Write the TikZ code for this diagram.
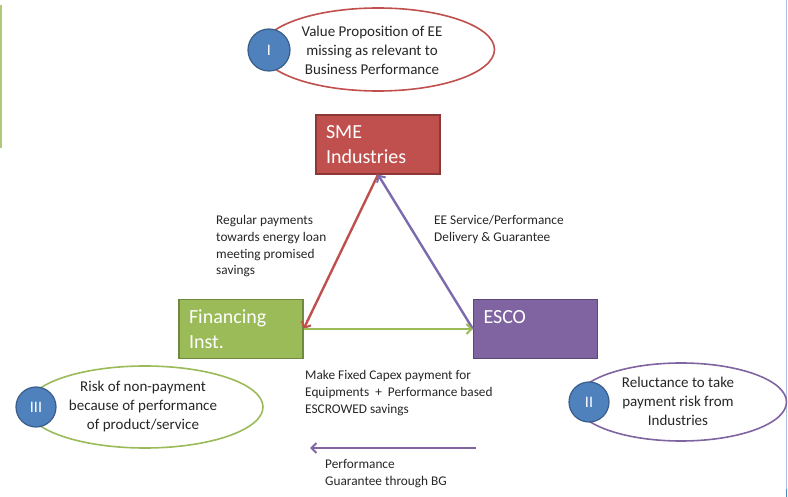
\documentclass[tikz,border=0pt]{standalone}
\usepackage{fontspec}
\setmainfont{Carlito}
\usetikzlibrary{shapes.geometric,arrows.meta}
\definecolor{smefill}{HTML}{C0504D}
\definecolor{smedraw}{HTML}{8C3836}
\definecolor{finfill}{HTML}{9BBB59}
\definecolor{findraw}{HTML}{71893F}
\definecolor{escofill}{HTML}{8064A2}
\definecolor{escodraw}{HTML}{5C4776}
\definecolor{circfill}{HTML}{4F81BD}
\definecolor{circdraw}{HTML}{385D8A}
\definecolor{arrpurple}{HTML}{7B6AAE}
\definecolor{txt}{HTML}{262626}
\definecolor{edgeblue}{HTML}{A9C2E2}
\tikzset{
  box/.style={rectangle, minimum width=124pt, minimum height=59pt, text width=104pt,
    inner xsep=10pt, inner ysep=0pt, align=left, text=white, line width=1.2pt,
    font=\fontsize{20}{24.5}\selectfont},
  oval/.style={ellipse, line width=1.6pt, inner sep=0pt},
  ovaltext/.style={align=center, text=txt, inner sep=0pt, font=\fontsize{15}{19}\selectfont},
  badge/.style={circle, fill=circfill, draw=circdraw, line width=1.2pt, inner sep=0pt,
    text=white, font=\fontsize{16}{18}\selectfont},
  lbl/.style={align=left, text=txt, inner sep=0pt, anchor=north west,
    font=\fontsize{13.3}{16.8}\selectfont},
  arr/.style={line width=2.4pt, -{Straight Barb[length=5pt,width=10pt,line width=2pt]}}
}
\begin{document}
\begin{tikzpicture}[x=1pt,y=-1pt]
\useasboundingbox (0,0) rectangle (788,497);
% edge lines
\draw[line width=2pt, color=finfill!80] (1,5) -- (1,148);
\draw[line width=1.5pt, color=edgeblue] (786.5,0) -- (786.5,497);
\draw[line width=1.5pt, color=circfill] (786.5,489) -- (786.5,497);

% boxes
\node[box, fill=smefill, draw=smedraw] (sme) at (378,144.5) {SME\\Industries};
\node[box, fill=finfill, draw=findraw] (fin) at (241,329) {Financing\\Inst.};
\node[box, fill=escofill, draw=escodraw] (esco) at (535.5,329) {ESCO\\\phantom{I}};

% triangle arrows
\draw[arr, color=smefill] (sme.south) -- (fin.east);
\draw[arr, color=arrpurple] (esco.west) -- (sme.south);
\draw[arr, color=finfill] (fin.east) -- (esco.west);

% bottom arrow
\coordinate (bgR) at (476,448);
\coordinate (bgL) at (310,448);
\draw[arr, color=escofill] (bgR) -- (bgL);

% labels
\node[lbl] (l1) at (216,215) {Regular payments\\towards energy loan\\meeting promised\\savings};
\node[lbl] (l2) at (434,215) {EE Service/Performance\\Delivery \& Guarantee};
\node[lbl] (l3) at (305,370) {Make Fixed Capex payment for\\Equipments \ +\ \ Performance based\\ESCROWED savings};
\node[lbl] (l4) at (325,459.5) {Performance\\Guarantee through BG};

% ellipses
\node[oval, draw=smefill, minimum width=233pt, minimum height=83pt] (e1) at (378,49.5) {};
\node[ovaltext] (t1) at (372,50) {Value Proposition of EE\\missing as relevant to\\Business Performance};
\node[badge, minimum size=42pt] (b1) at (269,50) {I};

\node[oval, draw=finfill, minimum width=236pt, minimum height=82pt] (e3) at (145,407) {};
\node[ovaltext] (t3) at (143,407) {Risk of non-payment\\because of performance\\of product/service};
\node[badge, minimum size=40pt] (b3) at (36,407) {III};

\node[oval, draw=escofill, minimum width=211pt, minimum height=78pt] (e2) at (681,402) {};
\node[ovaltext] (t2) at (678,401) {Reluctance to take\\payment risk from\\Industries};
\node[badge, minimum size=40pt] (b2) at (589,402) {II};
\end{tikzpicture}
\end{document}
